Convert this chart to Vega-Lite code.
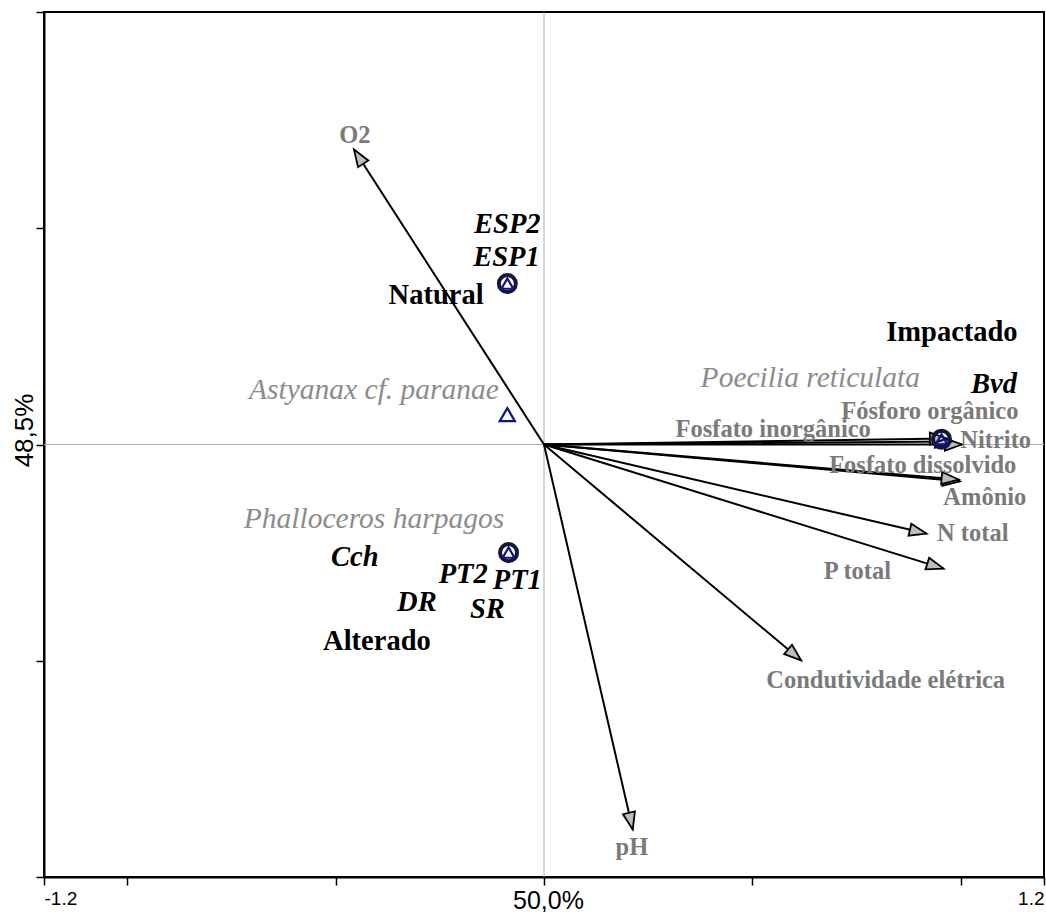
{
  "$schema": "https://vega.github.io/schema/vega-lite/v6.json",
  "width": 1000,
  "height": 865,
  "autosize": {"type": "none"},
  "padding": {"left": 44, "top": 12, "right": 2, "bottom": 35},
  "background": "white",
  "config": {
    "view": {"stroke": "black", "strokeWidth": 2},
    "axis": {"grid": false, "domainColor": "black", "domainWidth": 2, "tickColor": "black", "tickWidth": 1.5, "tickSize": 8}
  },
  "datasets": {
    "env": [
      {"var": "O2", "x": -0.456, "y": 0.682},
      {"var": "pH", "x": 0.213, "y": -0.890},
      {"var": "Condutividade elétrica", "x": 0.617, "y": -0.499},
      {"var": "P total", "x": 0.959, "y": -0.287},
      {"var": "N total", "x": 0.918, "y": -0.206},
      {"var": "Amônio", "x": 0.998, "y": -0.085},
      {"var": "Fosfato dissolvido", "x": 0.995, "y": -0.081},
      {"var": "Nitrito", "x": 1.003, "y": 0.0},
      {"var": "Fosfato inorgânico", "x": 0.979, "y": 0.007},
      {"var": "Fósforo orgânico", "x": 0.967, "y": 0.014}
    ],
    "sites": [
      {"group": "Natural", "x": -0.088, "y": 0.372},
      {"group": "Alterado", "x": -0.085, "y": -0.250},
      {"group": "Impactado", "x": 0.954, "y": 0.012}
    ],
    "species": [
      {"sp": "Astyanax cf. paranae", "alone": true, "x": -0.088, "y": 0.069},
      {"sp": "Natural", "alone": false, "x": -0.088, "y": 0.372},
      {"sp": "Phalloceros harpagos", "alone": false, "x": -0.085, "y": -0.250},
      {"sp": "Poecilia reticulata", "alone": false, "x": 0.954, "y": 0.012}
    ],
    "labels": [
      {"kind": "env", "text": "O2", "x": -0.454, "y": 0.698},
      {"kind": "env", "text": "pH", "x": 0.211, "y": -0.950},
      {"kind": "env", "text": "Condutividade elétrica", "x": 0.820, "y": -0.564},
      {"kind": "env", "text": "P total", "x": 0.752, "y": -0.310},
      {"kind": "env", "text": "N total", "x": 1.029, "y": -0.222},
      {"kind": "env", "text": "Amônio", "x": 1.058, "y": -0.141},
      {"kind": "env", "text": "Fosfato dissolvido", "x": 0.909, "y": -0.067},
      {"kind": "env", "text": "Nitrito", "x": 1.084, "y": -0.009},
      {"kind": "env", "text": "Fosfato inorgânico", "x": 0.550, "y": 0.018},
      {"kind": "env", "text": "Fósforo orgânico", "x": 0.926, "y": 0.060},
      {"kind": "species", "text": "Astyanax cf. paranae", "x": -0.408, "y": 0.106},
      {"kind": "species", "text": "Phalloceros harpagos", "x": -0.408, "y": -0.194},
      {"kind": "species", "text": "Poecilia reticulata", "x": 0.639, "y": 0.134},
      {"kind": "site", "text": "ESP2", "x": -0.088, "y": 0.488},
      {"kind": "site", "text": "ESP1", "x": -0.090, "y": 0.412},
      {"kind": "site", "text": "Cch", "x": -0.454, "y": -0.282},
      {"kind": "site", "text": "PT2", "x": -0.194, "y": -0.321},
      {"kind": "site", "text": "PT1", "x": -0.064, "y": -0.335},
      {"kind": "site", "text": "DR", "x": -0.305, "y": -0.386},
      {"kind": "site", "text": "SR", "x": -0.136, "y": -0.402},
      {"kind": "site", "text": "Bvd", "x": 1.080, "y": 0.118},
      {"kind": "group", "text": "Natural", "x": -0.259, "y": 0.324},
      {"kind": "group", "text": "Alterado", "x": -0.401, "y": -0.476},
      {"kind": "group", "text": "Impactado", "x": 0.979, "y": 0.240}
    ]
  },
  "encoding": {
    "x": {"type": "quantitative", "scale": {"domain": [-1.2, 1.2], "nice": false, "zero": false}},
    "y": {"type": "quantitative", "scale": {"domain": [-1, 1], "nice": false, "zero": false}}
  },
  "layer": [
    {
      "data": {"values": [{"x": 0, "y": 0}]},
      "mark": {"type": "rule", "color": "#acacac", "strokeWidth": 1},
      "encoding": {
        "x": {"field": "x", "type": "quantitative",
          "axis": {
            "values": [-1.2, -1, -0.5, 0, 0.5, 1, 1.2],
            "labelExpr": "datum.value == -1.2 ? '-1.2' : (datum.value == 1.2 ? '1.2' : '')",
            "labelFlush": true,
            "labelFont": "Liberation Sans Narrow, Liberation Sans, Arial",
            "labelFontSize": 19,
            "labelColor": "black",
            "labelPadding": 4,
            "title": "50,0%",
            "titleFont": "Liberation Sans Narrow, Liberation Sans, Arial",
            "titleFontSize": 25,
            "titleFontWeight": "normal",
            "titleColor": "black",
            "titleX": 504,
            "titleY": 31,
            "titleBaseline": "alphabetic"
          }
        }
      }
    },
    {
      "data": {"values": [{"x": 0, "y": 0}]},
      "mark": {"type": "rule", "color": "#acacac", "strokeWidth": 1},
      "encoding": {
        "y": {"field": "y", "type": "quantitative",
          "axis": {
            "values": [-1, -0.5, 0, 0.5, 1],
            "labels": false,
            "title": "48,5%",
            "titleFont": "Liberation Sans Narrow, Liberation Sans, Arial",
            "titleFontSize": 26,
            "titleFontWeight": "normal",
            "titleColor": "black",
            "titleAngle": -90,
            "titleX": -12,
            "titleY": 418,
            "titleAlign": "center",
            "titleBaseline": "alphabetic"
          }
        }
      }
    },
    {
      "data": {"name": "env"},
      "mark": {"type": "rule", "color": "black", "strokeWidth": 2},
      "encoding": {
        "x": {"field": "x", "type": "quantitative"},
        "y": {"field": "y", "type": "quantitative"},
        "x2": {"datum": 0},
        "y2": {"datum": 0}
      }
    },
    {
      "data": {"name": "env"},
      "transform": [{"calculate": "atan2(datum.x * 415.4, datum.y * 432.5) * 180 / PI", "as": "ang"}],
      "mark": {"type": "point", "shape": "M0,0L0.36,1L-0.36,1Z", "filled": true, "fill": "#bdbdbd", "stroke": "black", "strokeWidth": 1.8, "size": 1156, "opacity": 1},
      "encoding": {
        "x": {"field": "x", "type": "quantitative"},
        "y": {"field": "y", "type": "quantitative"},
        "angle": {"field": "ang", "type": "quantitative", "scale": null}
      }
    },
    {
      "data": {"name": "sites"},
      "mark": {"type": "point", "shape": "circle", "filled": false, "stroke": "#15153a", "strokeWidth": 4, "size": 290, "opacity": 1},
      "encoding": {
        "x": {"field": "x", "type": "quantitative"},
        "y": {"field": "y", "type": "quantitative"}
      }
    },
    {
      "data": {"name": "species"},
      "transform": [{"filter": "datum.alone"}],
      "mark": {"type": "point", "shape": "triangle-up", "filled": false, "stroke": "#10108a", "strokeWidth": 2.2, "size": 230, "opacity": 1},
      "encoding": {
        "x": {"field": "x", "type": "quantitative"},
        "y": {"field": "y", "type": "quantitative"}
      }
    },
    {
      "data": {"name": "species"},
      "transform": [{"filter": "!datum.alone"}],
      "mark": {"type": "point", "shape": "triangle-up", "filled": false, "stroke": "#10108a", "strokeWidth": 2.2, "size": 140, "opacity": 1},
      "encoding": {
        "x": {"field": "x", "type": "quantitative"},
        "y": {"field": "y", "type": "quantitative"}
      }
    },
    {
      "data": {"name": "labels"},
      "transform": [{"filter": "datum.kind == 'env'"}],
      "mark": {"type": "text", "font": "Liberation Serif", "fontWeight": "bold", "fontSize": 24.5, "color": "#7a7a7a", "align": "center", "baseline": "alphabetic"},
      "encoding": {
        "x": {"field": "x", "type": "quantitative"},
        "y": {"field": "y", "type": "quantitative"},
        "text": {"field": "text"}
      }
    },
    {
      "data": {"name": "labels"},
      "transform": [{"filter": "datum.kind == 'species'"}],
      "mark": {"type": "text", "font": "Liberation Serif", "fontStyle": "italic", "fontSize": 29.5, "color": "#8c8c8c", "align": "center", "baseline": "alphabetic"},
      "encoding": {
        "x": {"field": "x", "type": "quantitative"},
        "y": {"field": "y", "type": "quantitative"},
        "text": {"field": "text"}
      }
    },
    {
      "data": {"name": "labels"},
      "transform": [{"filter": "datum.kind == 'site'"}],
      "mark": {"type": "text", "font": "Liberation Serif", "fontStyle": "italic", "fontWeight": "bold", "fontSize": 28.5, "color": "black", "align": "center", "baseline": "alphabetic"},
      "encoding": {
        "x": {"field": "x", "type": "quantitative"},
        "y": {"field": "y", "type": "quantitative"},
        "text": {"field": "text"}
      }
    },
    {
      "data": {"name": "labels"},
      "transform": [{"filter": "datum.kind == 'group'"}],
      "mark": {"type": "text", "font": "Liberation Serif", "fontWeight": "bold", "fontSize": 28.5, "color": "black", "align": "center", "baseline": "alphabetic"},
      "encoding": {
        "x": {"field": "x", "type": "quantitative"},
        "y": {"field": "y", "type": "quantitative"},
        "text": {"field": "text"}
      }
    }
  ]
}
